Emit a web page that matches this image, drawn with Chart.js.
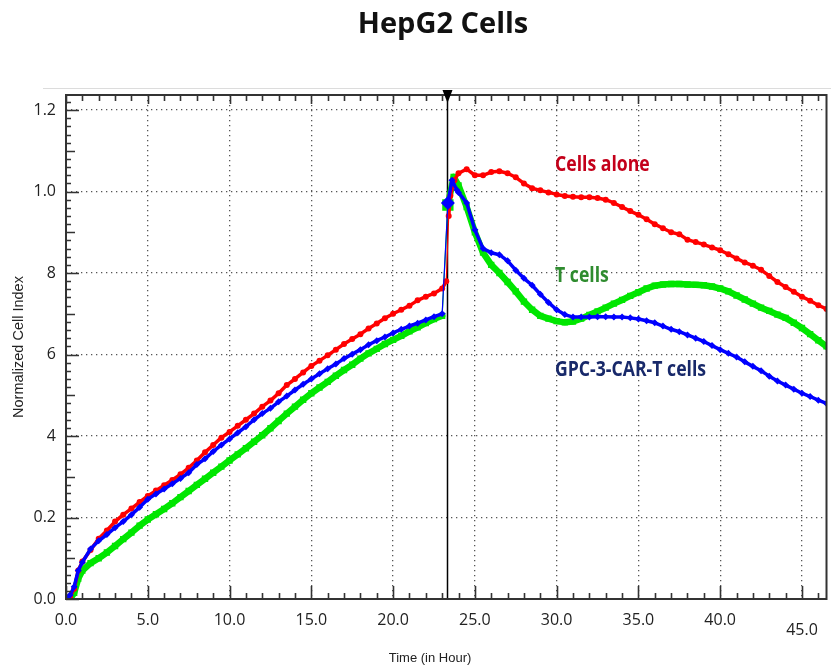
<!DOCTYPE html>
<html>
<head>
<meta charset="utf-8">
<script src="https://cdn.jsdelivr.net/npm/chart.js@4.4.0/dist/chart.umd.min.js"></script>
<style>
  html, body { margin: 0; padding: 0; background: #fff; }
  #wrap { width: 831px; height: 666px; }
</style>
</head>
<body>
<div id="wrap"><canvas id="cellChart" width="831" height="666"></canvas></div>
<script>
// time grid in hours, before and after the effector cells were added
const hoursBefore = [0, 0.25, 0.5, 0.75, 1, 1.5, 2, 2.5, 3, 3.5, 4, 4.5, 5, 5.5, 6, 6.5, 7, 7.5, 8, 8.5, 9, 9.5, 10, 10.5, 11, 11.5, 12, 12.5, 13, 13.5, 14, 14.5, 15, 15.5, 16, 16.5, 17, 17.5, 18, 18.5, 19, 19.5, 20, 20.5, 21, 21.5, 22, 22.5, 23];
const hoursAfter = [24, 24.5, 25, 25.5, 26, 26.5, 27, 27.5, 28, 28.5, 29, 29.5, 30, 30.5, 31, 31.5, 32, 32.5, 33, 33.5, 34, 34.5, 35, 35.5, 36, 36.5, 37, 37.5, 38, 38.5, 39, 39.5, 40, 40.5, 41, 41.5, 42, 42.5, 43, 43.5, 44, 44.5, 45, 45.5, 46, 46.5];
const additionHour = 23.3;

// Cells alone (red)
const aloneBefore = [0.0, 0.005, 0.025, 0.07, 0.092, 0.12, 0.148, 0.168, 0.19, 0.207, 0.222, 0.238, 0.253, 0.266, 0.279, 0.292, 0.306, 0.322, 0.34, 0.36, 0.378, 0.396, 0.41, 0.425, 0.44, 0.455, 0.472, 0.487, 0.505, 0.525, 0.54, 0.556, 0.572, 0.585, 0.598, 0.612, 0.626, 0.638, 0.65, 0.664, 0.676, 0.689, 0.70, 0.71, 0.72, 0.733, 0.742, 0.75, 0.762];
const aloneJumpHours = [23.25, 23.4, 23.5, 23.75];
const aloneJump = [0.78, 0.94, 0.99, 1.028];
const aloneAfter = [1.045, 1.055, 1.04, 1.04, 1.048, 1.05, 1.045, 1.035, 1.02, 1.008, 1.003, 0.998, 0.993, 0.989, 0.987, 0.986, 0.986, 0.984, 0.98, 0.972, 0.962, 0.952, 0.943, 0.932, 0.92, 0.91, 0.90, 0.895, 0.882, 0.876, 0.87, 0.863, 0.856, 0.846, 0.836, 0.826, 0.818, 0.808, 0.793, 0.778, 0.766, 0.754, 0.742, 0.732, 0.721, 0.712];

// GPC-3-CAR-T cells (blue)
const carBefore = [0.0, 0.01, 0.03, 0.07, 0.09, 0.123, 0.143, 0.158, 0.175, 0.19, 0.207, 0.225, 0.245, 0.258, 0.27, 0.283, 0.296, 0.31, 0.33, 0.344, 0.362, 0.378, 0.393, 0.408, 0.423, 0.44, 0.455, 0.468, 0.484, 0.498, 0.513, 0.527, 0.54, 0.553, 0.565, 0.577, 0.59, 0.601, 0.612, 0.624, 0.634, 0.643, 0.653, 0.662, 0.67, 0.677, 0.685, 0.693, 0.70];
const carJumpHours = [23.35, 23.6, 23.9];
const carJump = [0.972, 1.028, 1.004];
const carAfter = [0.998, 0.972, 0.906, 0.86, 0.85, 0.845, 0.83, 0.807, 0.787, 0.77, 0.748, 0.728, 0.71, 0.698, 0.692, 0.692, 0.692, 0.693, 0.693, 0.692, 0.692, 0.69, 0.687, 0.683, 0.678, 0.67, 0.662, 0.656, 0.648, 0.64, 0.632, 0.622, 0.612, 0.603, 0.594, 0.582, 0.571, 0.56, 0.547, 0.535, 0.525, 0.515, 0.505, 0.497, 0.488, 0.48];

// T cells (green)
const tBefore = [0.0, 0.0, 0.015, 0.05, 0.07, 0.088, 0.1, 0.114, 0.13, 0.147, 0.163, 0.18, 0.195, 0.208, 0.221, 0.235, 0.25, 0.265, 0.28, 0.295, 0.31, 0.325, 0.34, 0.355, 0.37, 0.386, 0.402, 0.419, 0.437, 0.455, 0.472, 0.489, 0.505, 0.519, 0.533, 0.548, 0.562, 0.575, 0.59, 0.603, 0.614, 0.626, 0.636, 0.646, 0.657, 0.667, 0.677, 0.687, 0.695];
const tJumpHours = [23.35, 23.7];
const tJump = [0.967, 1.036];
const tAfter = [1.015, 0.962, 0.90, 0.85, 0.82, 0.80, 0.778, 0.755, 0.73, 0.71, 0.695, 0.688, 0.682, 0.679, 0.681, 0.688, 0.697, 0.706, 0.715, 0.725, 0.734, 0.744, 0.753, 0.762, 0.769, 0.772, 0.773, 0.773, 0.772, 0.771, 0.77, 0.767, 0.762, 0.755, 0.745, 0.735, 0.725, 0.715, 0.707, 0.698, 0.69, 0.678, 0.665, 0.65, 0.635, 0.62];

// axis labels as printed on the figure
const yTickValues = [0, 0.2, 0.4, 0.6, 0.8, 1.0, 1.2];
const yTickLabels = ["0.0", "0.2", "4", "6", "8", "1.0", "1.2"];

const chartTitle = "HepG2 Cells";
const xAxisTitle = "Time (in Hour)";
const seriesLabels = ["Cells alone", "T cells", "GPC-3-CAR-T cells"];

const tickFont = "'Open Sans', 'Noto Sans', sans-serif";
const labelFont = "'Open Sans', 'Noto Sans', sans-serif";

function buildPoints(before, jumpHours, jump, after) {
  const pts = [];
  hoursBefore.forEach((h, i) => pts.push({ x: h, y: before[i] }));
  jumpHours.forEach((h, i) => pts.push({ x: h, y: jump[i] }));
  hoursAfter.forEach((h, i) => pts.push({ x: h, y: after[i] }));
  return pts;
}

// steep jump segments are drawn thin, the rest as a thick band
function bandWidth(wide) {
  return (s) => (Math.abs(s.p1.parsed.y - s.p0.parsed.y) > 0.1 ? 1.2 : wide);
}

// vertical line at cell addition + down triangle marker
const additionLine = {
  id: "additionLine",
  beforeDatasetsDraw(chart) {
    const { ctx, chartArea: a, scales: { x } } = chart;
    const px = Math.round(x.getPixelForValue(additionHour)) + 0.5;
    ctx.save();
    ctx.strokeStyle = "#000";
    ctx.lineWidth = 1.5;
    ctx.beginPath();
    ctx.moveTo(px, a.top);
    ctx.lineTo(px, a.bottom);
    ctx.stroke();
    ctx.restore();
  },
  afterDraw(chart) {
    const { ctx, chartArea: a, scales: { x } } = chart;
    const px = Math.round(x.getPixelForValue(additionHour)) + 0.5;
    ctx.save();
    ctx.fillStyle = "#000";
    ctx.beginPath();
    ctx.moveTo(px - 5, a.top - 5);
    ctx.lineTo(px + 5, a.top - 5);
    ctx.lineTo(px, a.top + 8);
    ctx.closePath();
    ctx.fill();
    ctx.restore();
  }
};

// frame and inner tick marks (major + minor)
const frameTicks = {
  id: "frameTicks",
  afterDatasetsDraw(chart) {
    const { ctx, chartArea: a, scales: { x, y } } = chart;
    ctx.save();
    // faint page rule above the plot
    ctx.strokeStyle = "#dcdcdc";
    ctx.lineWidth = 1;
    ctx.beginPath();
    ctx.moveTo(43, 88.5);
    ctx.lineTo(chart.width, 88.5);
    ctx.stroke();

    ctx.strokeStyle = "#333";
    ctx.lineWidth = 1.6;
    ctx.beginPath();
    for (let i = 0; i * 0.02 <= y.max; i++) {
      const py = Math.round(y.getPixelForValue(i * 0.02)) + 0.5;
      const len = i % 10 === 0 ? 13 : (i % 5 === 0 ? 9 : 5);
      ctx.moveTo(a.left, py);
      ctx.lineTo(a.left + len, py);
    }
    for (let h = 0; h <= x.max; h++) {
      const px = Math.round(x.getPixelForValue(h)) + 0.5;
      const len = h % 5 === 0 ? 13 : 6;
      ctx.moveTo(px, a.bottom);
      ctx.lineTo(px, a.bottom - len);
      ctx.moveTo(px, a.top);
      ctx.lineTo(px, a.top + (h % 5 === 0 ? 9 : 6));
    }
    ctx.stroke();
    ctx.lineWidth = 2;
    ctx.strokeRect(a.left, a.top, a.right - a.left, a.bottom - a.top);
    ctx.restore();
  }
};

// title, x axis title (both sit off-centre in the figure) and series names next to the curves
const figureText = {
  id: "figureText",
  afterDraw(chart) {
    const { ctx, scales: { x, y } } = chart;
    ctx.save();
    ctx.fillStyle = "#111";
    ctx.font = "bold 29px " + labelFont;
    ctx.textAlign = "center";
    ctx.textBaseline = "middle";
    ctx.fillText(chartTitle, 443, 25);

    ctx.fillStyle = "#222";
    ctx.font = "13px 'Liberation Sans', Arial, sans-serif";
    ctx.fillText(xAxisTitle, 430, 658);

    const spots = [
      { text: seriesLabels[0], hx: 29.9, v: 1.065, color: "#c4001a" },
      { text: seriesLabels[1], hx: 29.9, v: 0.793, color: "#2f8c2f" },
      { text: seriesLabels[2], hx: 29.9, v: 0.562, color: "#18296a" }
    ];
    ctx.font = "bold 21px " + labelFont;
    ctx.textAlign = "left";
    spots.forEach((s) => {
      const px = x.getPixelForValue(s.hx);
      const py = y.getPixelForValue(s.v);
      ctx.save();
      ctx.translate(px, py);
      ctx.scale(0.84, 1);
      ctx.fillStyle = s.color;
      ctx.fillText(s.text, 0, 0);
      ctx.restore();
    });
    ctx.restore();
  }
};

const ctx = document.getElementById("cellChart").getContext("2d");

new Chart(ctx, {
  type: "line",
  data: {
    datasets: [
      {
        label: seriesLabels[2],
        data: buildPoints(carBefore, carJumpHours, carJump, carAfter),
        borderColor: "#0000ff",
        backgroundColor: "#0000ff",
        segment: { borderWidth: bandWidth(3.5) },
        borderJoinStyle: "round",
        borderCapStyle: "round",
        pointStyle: "rectRot",
        pointRadius: (c) => (c.raw && c.raw.x === 23.35 ? 7 : 3.5),
        pointBorderWidth: 0,
        tension: 0,
        order: 1
      },
      {
        label: seriesLabels[0],
        data: buildPoints(aloneBefore, aloneJumpHours, aloneJump, aloneAfter),
        borderColor: "#ff0000",
        backgroundColor: "#ff0000",
        segment: { borderWidth: bandWidth(3.5) },
        borderJoinStyle: "round",
        borderCapStyle: "round",
        pointStyle: "circle",
        pointRadius: 3,
        pointBorderWidth: 0,
        tension: 0,
        order: 2
      },
      {
        label: seriesLabels[1],
        data: buildPoints(tBefore, tJumpHours, tJump, tAfter),
        borderColor: "#00e600",
        backgroundColor: "#00e600",
        segment: { borderWidth: bandWidth(6.5) },
        borderJoinStyle: "round",
        borderCapStyle: "round",
        pointStyle: "rect",
        pointRadius: (c) => (c.raw && c.raw.x === 23.35 ? 8 : 4.5),
        pointBorderWidth: 0,
        tension: 0,
        order: 3
      }
    ]
  },
  options: {
    responsive: false,
    animation: false,
    layout: { padding: { left: 0, right: 4, top: 95, bottom: 0 } },
    plugins: {
      legend: { display: false },
      tooltip: { enabled: false },
      title: { display: false }
    },
    scales: {
      x: {
        type: "linear",
        min: 0,
        max: 46.5,
        afterFit: (s) => { s.height = 67; },
        ticks: {
          stepSize: 5,
          includeBounds: false,
          autoSkip: false,
          maxRotation: 0,
          padding: 12,
          color: "#222",
          font: (c) => ({
            family: tickFont,
            size: 16,
            lineHeight: c.tick && c.tick.value === 45 ? 0.8 : 1.2
          }),
          callback: (v) => (v === 45 ? ["", "45.0"] : v.toFixed(1))
        },
        grid: { color: "#555", lineWidth: 1.3, drawTicks: false },
        border: { display: false, dash: [1.3, 3.7] }
      },
      y: {
        min: 0,
        max: 1.237,
        afterFit: (s) => { s.width = 66; },
        ticks: {
          stepSize: 0.2,
          includeBounds: false,
          padding: 10,
          color: "#222",
          font: { family: tickFont, size: 16 },
          callback: (v) => {
            const i = yTickValues.findIndex((t) => Math.abs(t - v) < 1e-6);
            return i >= 0 ? yTickLabels[i] : "";
          }
        },
        grid: { color: "#555", lineWidth: 1.3, drawTicks: false },
        border: { display: false, dash: [1.3, 3.7] },
        title: {
          display: true,
          text: "Normalized Cell Index",
          color: "#222",
          font: { family: "'Liberation Sans', Arial, sans-serif", size: 14.5 },
          padding: { top: 10, bottom: 0 }
        }
      }
    }
  },
  plugins: [additionLine, frameTicks, figureText]
});
</script>
</body>
</html>
